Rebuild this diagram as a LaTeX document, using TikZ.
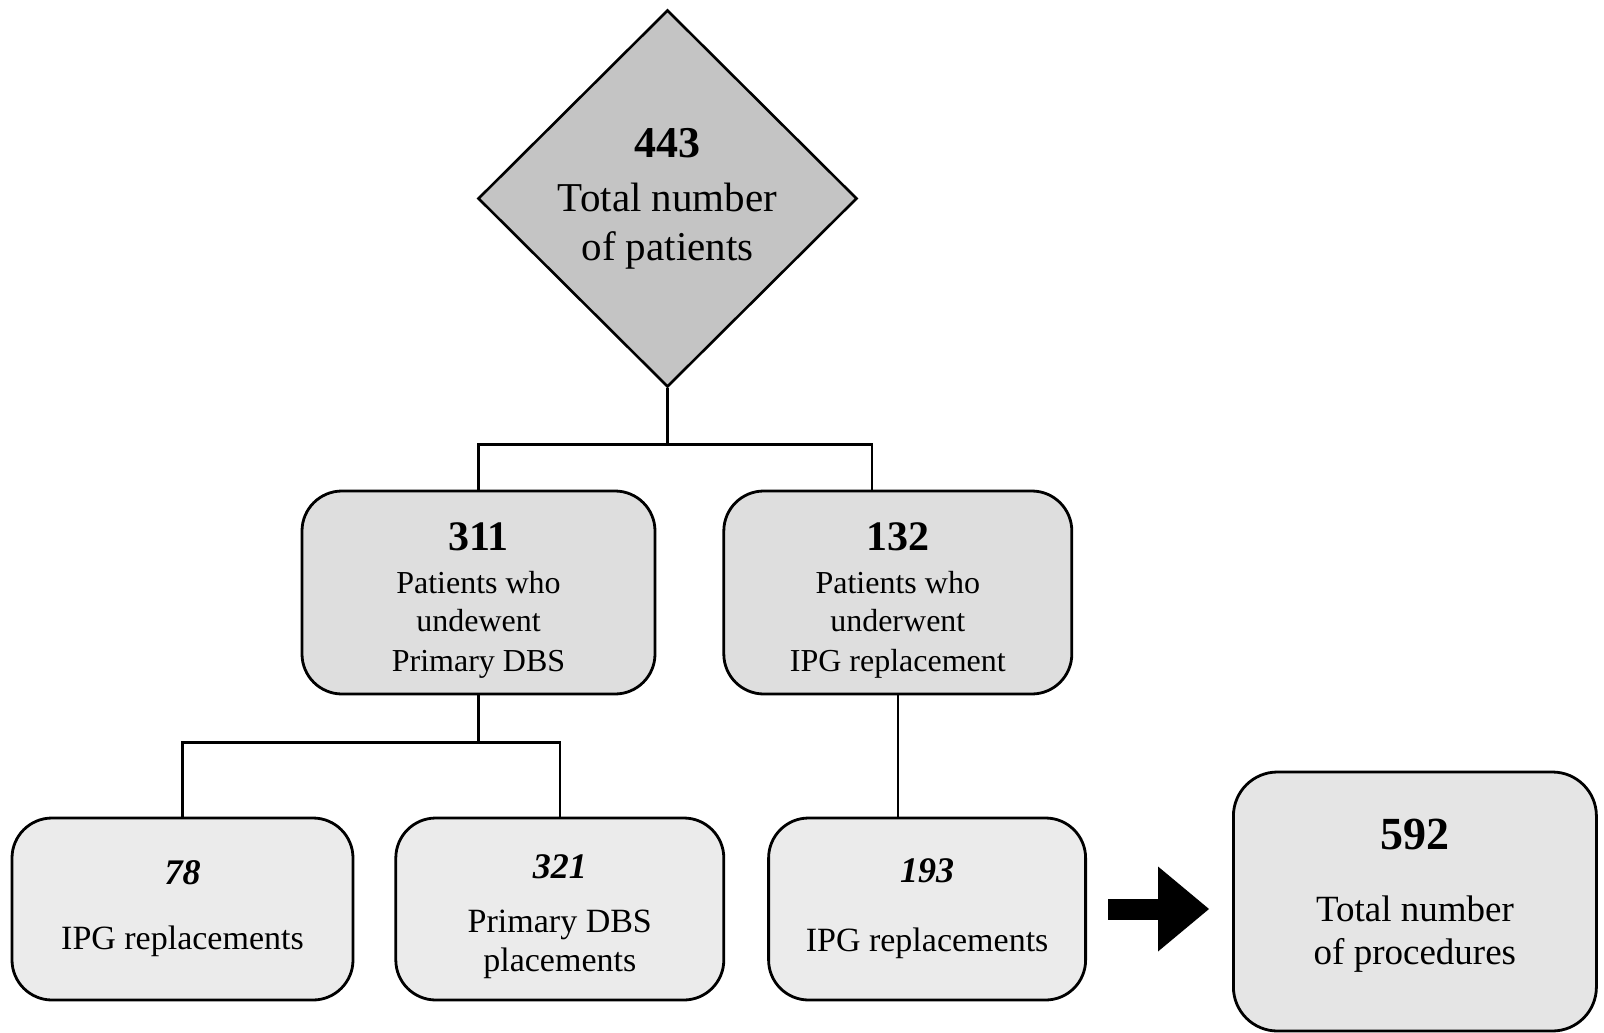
\documentclass[tikz,border=0pt]{standalone}
\usepackage{fontspec}
\setmainfont{Liberation Serif}
\usepackage{xcolor}
\usetikzlibrary{shapes.geometric, arrows.meta, positioning, calc}
\definecolor{diagray}{HTML}{C4C4C4}
\definecolor{midgray}{HTML}{DEDEDE}
\definecolor{lowgray}{HTML}{EBEBEB}
\definecolor{sumgray}{HTML}{E5E5E5}
\tikzset{
  totalpat/.style={diamond, aspect=1, draw=black, line width=1.3pt, fill=diagray, minimum width=189.5pt, minimum height=188.5pt, inner sep=0pt, align=center, font=\fontsize{20.5}{24.5}\selectfont},
  cohort/.style={rectangle, rounded corners=20pt, draw=black, line width=1.4pt, fill=midgray, minimum height=101.5pt, inner sep=2pt, align=center, font=\fontsize{16}{19}\selectfont},
  proc/.style={rectangle, rounded corners=20pt, draw=black, line width=1.4pt, fill=lowgray, minimum height=91pt, inner sep=2pt, align=center, font=\fontsize{17}{19.5}\selectfont},
  sumbox/.style={rectangle, rounded corners=22pt, draw=black, line width=1.4pt, fill=sumgray, minimum width=181.5pt, minimum height=129.5pt, inner sep=2pt, align=center, font=\fontsize{18.5}{21.5}\selectfont},
  link/.style={line width=1.2pt},
  bigarrow/.style={line width=10.5pt, -{Triangle[length=25.5pt, width=42.5pt, line width=0pt]}},
}
\newcommand{\bnum}[2]{{\fontsize{#1}{#1}\selectfont\bfseries #2}}
\newcommand{\inum}[2]{{\fontsize{#1}{#1}\selectfont\bfseries\itshape #2}}

\begin{document}
\begin{tikzpicture}[x=0.5pt, y=-0.5pt]
\useasboundingbox (0,0) rectangle (1604,1032);
% patients
\node[totalpat] (total) at (667.5,198.5) {\bnum{22}{443}\\[2.5pt]Total number\\of patients};
\node[cohort, minimum width=176.5pt] (dbs) at (478.5,592.5) {\mbox{}\\[3pt]\bnum{21}{311}\\[2.5pt]Patients who\\undewent\\[1pt]Primary DBS};
\node[cohort, minimum width=174pt, right=33pt of dbs] (ipg) {\mbox{}\\[3pt]\bnum{21}{132}\\[2.5pt]Patients who\\underwent\\[1pt]IPG replacement};
% procedures
\node[proc, minimum width=170.5pt] (repA) at (182.5,909) {\inum{18}{78}\\[13pt]IPG replacements};
\node[proc, minimum width=164pt, right=20pt of repA] (place) {\mbox{}\\[0.5pt]\inum{18}{321}\\[7.5pt]Primary DBS\\placements};
\node[proc, minimum width=158.5pt, right=21pt of place] (repB) {\inum{18}{193}\\[15pt]IPG replacements};
\node[sumbox, right=72.5pt of repB, yshift=3.75pt] (sum) {\bnum{23}{592}\\[14.5pt]Total number\\of procedures\\[-11.5pt]\mbox{}};
% connectors
\draw[link] (total.south) -- ++(0,56) coordinate (split);
\draw[link] (dbs.north) |- (split) -| ([xshift=-13pt]ipg.north);
\draw[link] (dbs.south) -- ++(0,47) coordinate (splitB);
\draw[link] (repA.north) |- (splitB) -| (place.north);
\draw[link] (ipg.south) -- (ipg.south |- repB.north);
\draw[bigarrow] ([xshift=10.5pt]repB.east) -- ([xshift=-11.5pt]repB.east -| sum.west);
\end{tikzpicture}
\end{document}
